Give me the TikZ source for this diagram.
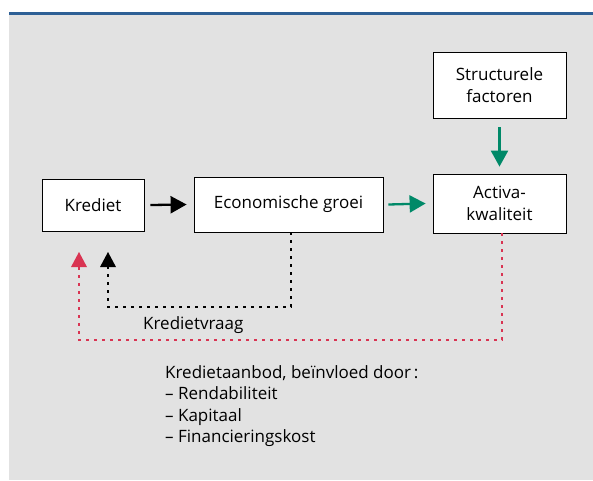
\documentclass[tikz,border=0pt]{standalone}
\usepackage{fontspec}
\setmainfont{Open Sans}
\usetikzlibrary{arrows.meta}
\definecolor{panelgray}{RGB}{226,226,226}
\definecolor{rulebl}{RGB}{46,96,150}
\definecolor{arrgreen}{RGB}{0,137,104}
\definecolor{arrred}{RGB}{217,52,82}
\tikzset{
    box/.style = {draw, thick, fill=white, inner sep=0pt, align=center},
    flow/.style = {line width=2.3pt, -{Triangle[length=16pt, width=17pt]}},
    loop/.style = {line width=2.7pt, dash pattern=on 2.7pt off 5.3pt},
}
\begin{document}
\begin{tikzpicture}[x=1pt, y=-1pt, font=\fontsize{17}{21.5}\selectfont]
    \useasboundingbox (0,0) rectangle (593,480);
    \fill[panelgray] (9,15) rectangle (593,480);
    \fill[rulebl] (9,12) rectangle (593,15);

    % boxes
    \node[box, minimum width=102pt, minimum height=52pt] (krediet) at (93,205) {Krediet};
    \node[box, minimum width=189pt, minimum height=55pt] (groei) at (288.5,204.5) {Economische groei};
    \node[box, minimum width=133pt, minimum height=59pt] (activa) at (499.5,203.5) {Activa-\\kwaliteit};
    \node[box, minimum width=133pt, minimum height=66pt] (factoren) at (499.5,85) {Structurele\\factoren};

    % solid arrows
    \draw[flow] ([xshift=6pt]krediet.east) -- ([xshift=-7pt]groei.west);
    \draw[flow, arrgreen] ([xshift=5pt]groei.east) -- ([xshift=-7pt]activa.west);
    \draw[flow, arrgreen] ([yshift=-9pt]factoren.south) -- ([yshift=7pt]activa.north);

    % feedback loops
    \coordinate (vraagtip) at (108,252);
    \coordinate (aanbodtip) at (79,252);
    \draw[loop] (groei.south -| 291,0) |- (108,307) -- ([yshift=-13pt]vraagtip);
    \fill (vraagtip) -- ++(-8,15) -- ++(16,0) -- cycle;
    \draw[loop, arrred] (activa.south -| 502,0) |- (79,340) -- ([yshift=-13pt]aanbodtip);
    \fill[arrred] (aanbodtip) -- ++(-8,15) -- ++(16,0) -- cycle;

    \node[anchor=west, inner sep=0pt] (vraag) at (143,325) {Kredietvraag};
    \node[anchor=north west, inner sep=0pt, align=left] (aanbod) at (165,365)
        {Kredietaanbod, beïnvloed door\,:\\– Rendabiliteit\\– Kapitaal\\– Financieringskost};
\end{tikzpicture}
\end{document}
